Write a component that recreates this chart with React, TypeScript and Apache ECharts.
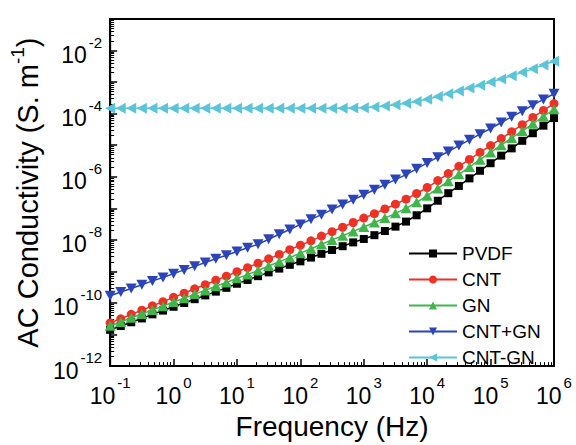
import { useEffect, useRef } from 'react';
import * as echarts from 'echarts';

// Frequency (Hz)
const frequencyHz = [
  0.1, 0.147, 0.215, 0.316, 0.464, 0.681,
  1, 1.47, 2.15, 3.16, 4.64, 6.81,
  10, 14.7, 21.5, 31.6, 46.4, 68.1,
  100, 147, 215, 316, 464, 681,
  1e3, 1.47e3, 2.15e3, 3.16e3, 4.64e3, 6.81e3,
  1e4, 1.47e4, 2.15e4, 3.16e4, 4.64e4, 6.81e4,
  1e5, 1.47e5, 2.15e5, 3.16e5, 4.64e5, 6.81e5,
  1e6,
];

// AC conductivity (S/m)
const pvdf = [
  1.41e-11, 1.86e-11, 2.45e-11, 3.24e-11, 4.37e-11, 5.75e-11,
  7.59e-11, 1.0e-10, 1.32e-10, 1.74e-10, 2.29e-10, 3.02e-10,
  4.07e-10, 5.37e-10, 7.08e-10, 9.33e-10, 1.23e-9, 1.62e-9,
  2.09e-9, 2.75e-9, 3.63e-9, 4.79e-9, 6.31e-9, 8.32e-9,
  1.07e-8, 1.41e-8, 1.91e-8, 2.63e-8, 3.8e-8, 6.03e-8,
  1.0e-7, 1.74e-7, 3.02e-7, 5.13e-7, 8.91e-7, 1.55e-6,
  2.69e-6, 4.68e-6, 7.94e-6, 1.38e-5, 2.4e-5, 4.17e-5,
  7.24e-5,
];
const cnt = [
  2.34e-11, 3.16e-11, 4.37e-11, 5.89e-11, 8.13e-11, 1.1e-10,
  1.51e-10, 2.04e-10, 2.82e-10, 3.8e-10, 5.25e-10, 7.08e-10,
  9.77e-10, 1.32e-9, 1.82e-9, 2.51e-9, 3.47e-9, 4.9e-9,
  6.76e-9, 9.33e-9, 1.32e-8, 1.82e-8, 2.51e-8, 3.55e-8,
  4.9e-8, 6.76e-8, 9.55e-8, 1.35e-7, 1.95e-7, 2.95e-7,
  4.57e-7, 7.59e-7, 1.26e-6, 2.14e-6, 3.55e-6, 5.89e-6,
  9.77e-6, 1.62e-5, 2.69e-5, 4.47e-5, 7.59e-5, 1.26e-4,
  2.09e-4,
];
const gn = [
  1.91e-11, 2.51e-11, 3.39e-11, 4.47e-11, 6.03e-11, 7.94e-11,
  1.07e-10, 1.41e-10, 1.91e-10, 2.51e-10, 3.39e-10, 4.47e-10,
  6.03e-10, 7.94e-10, 1.07e-9, 1.48e-9, 2.04e-9, 2.75e-9,
  3.8e-9, 5.25e-9, 7.24e-9, 1.0e-8, 1.35e-8, 1.86e-8,
  2.57e-8, 3.55e-8, 4.9e-8, 6.92e-8, 1.0e-7, 1.55e-7,
  2.51e-7, 4.27e-7, 7.24e-7, 1.2e-6, 2.04e-6, 3.47e-6,
  5.89e-6, 1.0e-5, 1.7e-5, 2.82e-5, 4.79e-5, 8.13e-5,
  1.38e-4,
];
const cntPlusGn = [
  1.7e-10, 2.24e-10, 2.88e-10, 3.8e-10, 5.01e-10, 6.46e-10,
  8.51e-10, 1.12e-9, 1.45e-9, 1.91e-9, 2.51e-9, 3.24e-9,
  4.27e-9, 5.62e-9, 7.24e-9, 1.05e-8, 1.51e-8, 2.14e-8,
  3.09e-8, 4.47e-8, 6.31e-8, 9.12e-8, 1.32e-7, 1.86e-7,
  2.69e-7, 3.89e-7, 5.62e-7, 8.13e-7, 1.17e-6, 1.78e-6,
  2.75e-6, 4.17e-6, 6.31e-6, 9.77e-6, 1.48e-5, 2.24e-5,
  3.39e-5, 5.25e-5, 7.94e-5, 1.2e-4, 1.86e-4, 2.82e-4,
  4.27e-4,
];
const cntGn = [
  1.48e-4, 1.48e-4, 1.48e-4, 1.48e-4, 1.48e-4, 1.48e-4,
  1.48e-4, 1.48e-4, 1.48e-4, 1.48e-4, 1.48e-4, 1.48e-4,
  1.48e-4, 1.48e-4, 1.48e-4, 1.48e-4, 1.48e-4, 1.48e-4,
  1.48e-4, 1.48e-4, 1.48e-4, 1.48e-4, 1.48e-4, 1.51e-4,
  1.55e-4, 1.62e-4, 1.74e-4, 1.91e-4, 2.14e-4, 2.45e-4,
  2.88e-4, 3.47e-4, 4.27e-4, 5.25e-4, 6.46e-4, 7.94e-4,
  1.0e-3, 1.26e-3, 1.58e-3, 2.04e-3, 2.63e-3, 3.47e-3,
  4.57e-3,
];

const seriesNames = ['PVDF', 'CNT', 'GN', 'CNT+GN', 'CNT-GN'];
const seriesValues = [pvdf, cnt, gn, cntPlusGn, cntGn];

// axis extents, in decades (log10)
const xDecadeMin = -1;
const xDecadeMax = 6;
const yDecadeMin = -12;
const yDecadeMax = -1;

const FONT = 'Arial, "Liberation Sans", Helvetica, sans-serif';

const colors = ['#000000', '#ee3124', '#3fb54a', '#2b45b9', '#5ac5d8'];
const symbols = ['rect', 'circle', 'triangle', 'triangle', 'triangle'];
const symbolRotates = [0, 0, 0, 180, 90];
const symbolSizes: any[] = [8, 9, [11, 10], [11, 10], [11, 10]];

function minorTicks(from: number, to: number) {
  const out: number[] = [];
  for (let d = from; d < to; d++) {
    for (let k = 2; k <= 9; k++) out.push(d + Math.log10(k));
  }
  return out;
}

export default function App() {
  const ref = useRef<HTMLDivElement>(null);
  useEffect(() => {
    if (!ref.current) return;
    const chart = echarts.init(ref.current, null, { renderer: 'svg' });

    const tickRich = {
      b: { fontSize: 23, fontFamily: FONT, color: '#000', lineHeight: 32, verticalAlign: 'bottom' },
      s: { fontSize: 15, fontFamily: FONT, color: '#000', lineHeight: 15, verticalAlign: 'top', padding: [0, 0, 0, 2] },
    };
    const axisLine = { show: true, onZero: false, lineStyle: { color: '#000', width: 2 } };

    const series = seriesNames.map((name, si) => ({
      name,
      type: 'line',
      xAxisIndex: 0,
      yAxisIndex: 0,
      data: frequencyHz.map((f, i) => [Math.log10(f), Math.log10(seriesValues[si][i])]),
      symbol: symbols[si],
      symbolSize: symbolSizes[si],
      symbolRotate: symbolRotates[si],
      showSymbol: true,
      lineStyle: { color: colors[si], width: 1.5 },
      itemStyle: { color: colors[si] },
      z: 2 + si,
    }));

    chart.setOption({
      animation: false,
      grid: {
        left: 105,
        right: 22,
        top: 19,
        bottom: 64,
        show: true,
        borderColor: '#000',
        borderWidth: 2,
      },
      legend: {
        orient: 'vertical',
        left: 408,
        top: 243,
        itemWidth: 48,
        itemHeight: 10,
        itemGap: 5,
        padding: 0,
        data: seriesNames,
        textStyle: { fontSize: 19, fontFamily: FONT, color: '#000', lineHeight: 21 },
      },
      xAxis: [
        {
          type: 'value',
          min: xDecadeMin,
          max: xDecadeMax,
          interval: 1,
          position: 'bottom',
          axisLine,
          axisTick: { show: true, inside: true, length: 7, lineStyle: { color: '#000', width: 1.5 } },
          axisLabel: {
            margin: 9,
            fontSize: 23,
            fontFamily: FONT,
            color: '#000',
            formatter: (v: number) => `{b|10}{s|${Math.round(v)}}`,
            rich: tickRich,
          },
          splitLine: { show: false },
          name: 'Frequency (Hz)',
          nameLocation: 'middle',
          nameGap: 35,
          nameTextStyle: { fontSize: 28, fontFamily: FONT, color: '#000' },
        },
        {
          type: 'value',
          min: xDecadeMin,
          max: xDecadeMax,
          position: 'bottom',
          axisLine: { show: false, onZero: false },
          axisTick: {
            show: true,
            inside: true,
            length: 4,
            customValues: minorTicks(xDecadeMin, xDecadeMax),
            lineStyle: { color: '#000', width: 1 },
          },
          axisLabel: { show: false },
          splitLine: { show: false },
        },
      ],
      yAxis: [
        {
          type: 'value',
          min: yDecadeMin,
          max: yDecadeMax,
          interval: 1,
          position: 'left',
          axisLine,
          axisTick: { show: true, inside: true, length: 7, lineStyle: { color: '#000', width: 1.5 } },
          axisLabel: {
            margin: 8,
            fontSize: 23,
            fontFamily: FONT,
            color: '#000',
            formatter: (v: number) => {
              const n = Math.round(v);
              if (n % 2 !== 0 || n === yDecadeMax) return '';
              return `{b|10}{s|${n}}`;
            },
            rich: tickRich,
          },
          splitLine: { show: false },
          name: '{t|AC Conductivity (S. m}{s|-1}{t|)}',
          nameLocation: 'middle',
          nameGap: 58,
          nameRotate: 90,
          nameTextStyle: {
            rich: {
              t: { fontSize: 29, fontFamily: FONT, color: '#000', lineHeight: 34, verticalAlign: 'bottom' },
              s: { fontSize: 19, fontFamily: FONT, color: '#000', lineHeight: 19, verticalAlign: 'top' },
            },
          },
        },
        {
          type: 'value',
          min: yDecadeMin,
          max: yDecadeMax,
          position: 'left',
          axisLine: { show: false, onZero: false },
          axisTick: {
            show: true,
            inside: true,
            length: 4,
            customValues: minorTicks(yDecadeMin, yDecadeMax),
            lineStyle: { color: '#000', width: 1 },
          },
          axisLabel: { show: false },
          splitLine: { show: false },
        },
      ],
      series,
    } as any);

    return () => chart.dispose();
  }, []);

  return (
    <div
      ref={ref}
      style={{ position: 'fixed', left: 0, top: 0, width: 576, height: 445, background: '#fff' }}
    />
  );
}
